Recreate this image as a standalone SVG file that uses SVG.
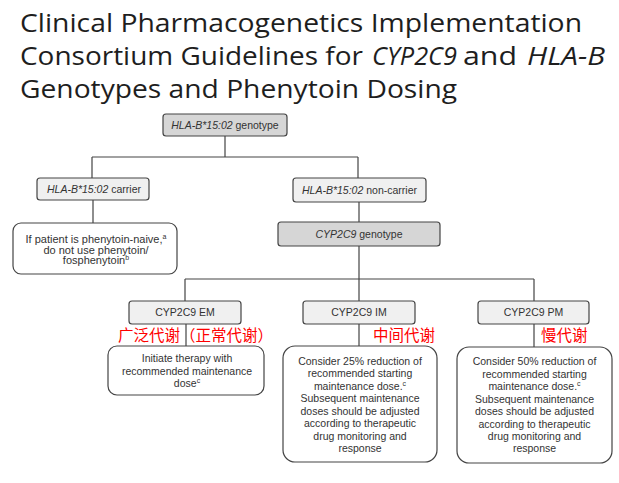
<svg xmlns="http://www.w3.org/2000/svg" width="619" height="483" viewBox="0 0 619 483">
<style>
.title{font-family:"Open Sans","Liberation Sans",sans-serif;font-size:26px;fill:#1e1e1e}
.n{font-family:"Liberation Sans",Arial,sans-serif;font-size:10.5px;fill:#333;text-anchor:middle}
.box{fill:#f0f0f0;stroke:#444;stroke-width:1.2}
.gbox{fill:#d6d6d6;stroke:#444;stroke-width:1.2}
.abox{fill:#fff;stroke:#444;stroke-width:1.2}
.cn{fill:none;stroke:#444;stroke-width:1.2}
.red{font-family:"Noto Sans CJK SC",sans-serif;font-size:15.5px;fill:#f00}
.i{font-style:italic}
.sup{font-size:7px}
</style>
<rect width="619" height="483" fill="#fff"/>
<g id="title">
<text class="title" x="20" y="32" textLength="562" lengthAdjust="spacingAndGlyphs">Clinical Pharmacogenetics Implementation</text>
<text class="title" x="20" y="65" textLength="343" lengthAdjust="spacingAndGlyphs">Consortium Guidelines for</text>
<text class="title i" x="372" y="65" textLength="85" lengthAdjust="spacingAndGlyphs">CYP2C9</text>
<text class="title" x="463" y="65" textLength="54" lengthAdjust="spacingAndGlyphs">and</text>
<text class="title i" x="527" y="65" textLength="78" lengthAdjust="spacingAndGlyphs">HLA-B</text>
<text class="title" x="20" y="98" textLength="437" lengthAdjust="spacingAndGlyphs">Genotypes and Phenytoin Dosing</text>
</g>
<g id="connectors">
<path class="cn" d="M225 136V157M92 157H358M92 157V178M358 157V178M93 200V223M359 202V222M359 246V279M185 279H534M185 279V301M359 279V301M534 279V301M186 324V346M359 324V346M534 324V347"/>
</g>
<g id="hla-genotype">
<rect class="gbox" x="163" y="114" width="124" height="22" rx="3"/>
<text class="n" x="225" y="128.5"><tspan class="i">HLA-B*15:02</tspan> genotype</text>
</g>
<g id="carrier">
<rect class="box" x="37" y="178" width="112" height="22" rx="3"/>
<text class="n" x="94" y="192.5"><tspan class="i">HLA-B*15:02</tspan> carrier</text>
</g>
<g id="non-carrier">
<rect class="box" x="293" y="178" width="133" height="24" rx="3"/>
<text class="n" x="359.5" y="193.5"><tspan class="i">HLA-B*15:02</tspan> non-carrier</text>
</g>
<g id="carrier-advice">
<rect class="abox" x="13" y="223" width="164" height="51" rx="8"/>
<text class="n" x="96" y="243" style="font-size:11px">If patient is phenytoin-naive,<tspan class="sup" dy="-4">a</tspan></text>
<text class="n" x="96" y="253.5" style="font-size:11px">do not use phenytoin/</text>
<text class="n" x="96" y="264" style="font-size:11px">fosphenytoin<tspan class="sup" dy="-4">b</tspan></text>
</g>
<g id="cyp-genotype">
<rect class="gbox" x="278" y="222" width="162" height="24" rx="3"/>
<text class="n" x="359" y="237.5"><tspan class="i">CYP2C9</tspan> genotype</text>
</g>
<g id="em">
<rect class="box" x="129" y="301" width="112" height="23" rx="3"/>
<text class="n" x="185" y="316">CYP2C9 EM</text>
</g>
<g id="im">
<rect class="box" x="303" y="301" width="112" height="23" rx="3"/>
<text class="n" x="359" y="316">CYP2C9 IM</text>
</g>
<g id="pm">
<rect class="box" x="478" y="301" width="111" height="23" rx="3"/>
<text class="n" x="533.5" y="316">CYP2C9 PM</text>
</g>
<g id="labels">
<text class="red" x="118" y="341">广泛代谢（正常代谢）</text>
<text class="red" x="373" y="341">中间代谢</text>
<text class="red" x="541" y="341">慢代谢</text>
</g>
<g id="em-advice">
<rect class="abox" x="108" y="346" width="156" height="49" rx="9"/>
<text class="n" x="187" y="362">Initiate therapy with</text>
<text class="n" x="187" y="374.5">recommended maintenance</text>
<text class="n" x="187" y="387">dose<tspan class="sup" dy="-4">c</tspan></text>
</g>
<g id="im-advice">
<rect class="abox" x="283" y="346" width="154" height="116" rx="12"/>
<text class="n" x="360" y="364.5">Consider 25% reduction of</text>
<text class="n" x="360" y="377">recommended starting</text>
<text class="n" x="360" y="389.5">maintenance dose.<tspan class="sup" dy="-4">c</tspan></text>
<text class="n" x="360" y="402">Subsequent maintenance</text>
<text class="n" x="360" y="414.5">doses should be adjusted</text>
<text class="n" x="360" y="427">according to therapeutic</text>
<text class="n" x="360" y="439.5">drug monitoring and</text>
<text class="n" x="360" y="451.5">response</text>
</g>
<g id="pm-advice">
<rect class="abox" x="457" y="347" width="155" height="116" rx="12"/>
<text class="n" x="534.5" y="365">Consider 50% reduction of</text>
<text class="n" x="534.5" y="377.5">recommended starting</text>
<text class="n" x="534.5" y="390">maintenance dose.<tspan class="sup" dy="-4">c</tspan></text>
<text class="n" x="534.5" y="402.5">Subsequent maintenance</text>
<text class="n" x="534.5" y="415">doses should be adjusted</text>
<text class="n" x="534.5" y="427.5">according to therapeutic</text>
<text class="n" x="534.5" y="440">drug monitoring and</text>
<text class="n" x="534.5" y="452">response</text>
</g>
</svg>
